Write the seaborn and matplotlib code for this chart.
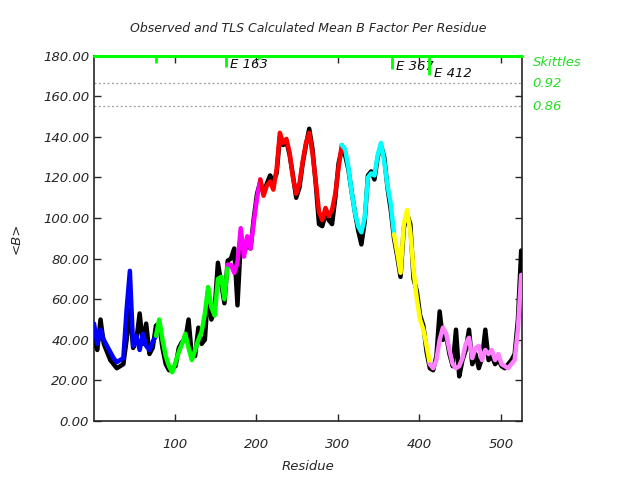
import numpy as np
import pandas as pd
import matplotlib
matplotlib.use('Agg')
import matplotlib.pyplot as plt
import seaborn as sns

# residue grid (every 4 residues)
residue = list(range(1, 526, 4))

# TLS calculated mean B, one value per residue above
calc_b = [48, 38, 45, 40, 37, 34, 31, 29, 30, 31, 55, 74, 37, 42, 35, 43, 37, 35, 39, 42,
          50, 40, 32, 27, 24, 29, 34, 38, 43, 36, 30, 35, 40, 44, 53, 66, 56, 52, 70, 71, 60,
          77, 77, 73, 78, 95, 81, 91, 85, 98, 110,
          119, 111, 116, 118, 114, 124, 142, 137, 139, 132, 120, 112, 117, 128, 137, 142, 132,
          118, 103, 99, 105, 101, 104, 112, 125,
          136, 134, 125, 113, 103, 96, 93, 100, 120, 122, 121, 131, 137, 128, 116, 107,
          92, 83, 73, 97, 104, 93, 74, 60, 50, 45, 37,
          28, 26, 30, 40, 46, 43, 35, 28, 26, 27, 31, 38, 41, 31, 36, 37, 30, 35, 33, 35,
          30, 33, 28, 27, 26, 28, 30, 45, 72]

# observed mean B
obs_b = [40, 35, 50, 38, 34, 30, 28, 26, 27, 28, 40, 55, 36, 40, 53, 38, 48, 33, 36, 47,
         48, 36, 28, 25, 26, 27, 36, 39, 40, 50, 32, 32, 46, 38, 40, 64, 50, 55, 78, 68, 58,
         79, 80, 85, 57, 88, 83, 87, 85, 100, 112,
         118, 112, 117, 121, 118, 122, 140, 136, 138, 131, 121, 110, 115, 127, 136, 144, 134,
         117, 97, 96, 102, 99, 97, 110, 127,
         134, 131, 124, 113, 103, 94, 87, 98, 121, 123, 119, 130, 136, 130, 115, 104,
         90, 81, 71, 95, 102, 97, 70, 64, 52, 47, 34,
         26, 25, 32, 54, 40, 42, 33, 27, 45, 22, 30, 35, 45, 28, 33, 26, 31, 45, 30, 32,
         28, 30, 27, 26, 28, 30, 33, 50, 84]

# TLS groups (first/last residue on the grid) and colours
seg_bounds = [1, 77, 165, 205, 305, 369, 413, 525]
seg_colors = ['#0000ff', '#00ff00', '#ff00ff', '#ff0000', '#00ffff', '#ffff00', '#ff80ff']

# skittles: residue, lower end, label
skit_res = [77, 163, 203, 303, 367, 412]
skit_low = [176.5, 174.5, 178.5, 179.5, 173.5, 170.5]
skit_labels = {163: 'E 163', 367: 'E 367', 412: 'E 412'}
skit_label_pos = {163: (168, 175.9), 367: (372, 174.5), 412: (418, 171.3)}
lev_vals = [166.5, 155.0]
lev_labels = ['0.92', '0.86']

df = pd.DataFrame({'Residue': residue, 'Calc': calc_b, 'Obs': obs_b})

sns.set_style('ticks')
plt.rcParams['font.family'] = ['DejaVu Sans']
plt.rcParams['font.style'] = 'italic'
plt.rcParams['font.size'] = 9

fig = plt.figure(figsize=(6.4, 4.8), dpi=100)
ax = fig.add_axes([94/640, 59/480, 428/640, 365.3/480])

lime = '#00ff00'
for v in lev_vals:
    ax.axhline(v, color='#999999', ls=(0, (1.5, 2)), lw=0.9, zorder=1)
ax.axhline(180, color=lime, lw=2.2, zorder=6, clip_on=False)

sns.lineplot(data=df, x='Residue', y='Obs', color='black', lw=3.2, ax=ax, zorder=3)
for i, col in enumerate(seg_colors):
    lo, hi = seg_bounds[i], seg_bounds[i + 1]
    part = df[(df['Residue'] >= lo) & (df['Residue'] <= hi)]
    sns.lineplot(data=part, x='Residue', y='Calc', color=col, lw=3.2, ax=ax, zorder=4)

for r, lowv in zip(skit_res, skit_low):
    ax.plot([r, r], [180, lowv], color=lime, lw=2, zorder=6, solid_capstyle='butt')
    if r in skit_labels:
        px, py = skit_label_pos[r]
        ax.text(px, py, skit_labels[r], ha='left', va='center', fontsize=9.5, color='#111111')

ax.set_xlim(1, 526)
ax.set_ylim(0, 180)
ax.set_xticks([100, 200, 300, 400, 500])
ax.set_yticks(np.arange(0, 181, 20))
ax.set_yticklabels([f'{v:.2f}' for v in np.arange(0, 181, 20)])
ax.tick_params(direction='in', top=True, right=True, length=5, width=1, labelsize=9.5)
ax.tick_params(axis='x', pad=12)
for s in ax.spines.values():
    s.set_linewidth(1.2)
ax.set_xlabel('Residue', fontsize=9.5, labelpad=7)
ax.set_ylabel('<B>', fontsize=9.5, labelpad=15)

tr = ax.get_yaxis_transform()
ax.text(1.025, 176.5, 'Skittles', transform=tr, color='#22dd22', ha='left', va='center', fontsize=9.5)
for v, lab in zip(lev_vals, lev_labels):
    ax.text(1.025, v, lab, transform=tr, color='#22dd22', ha='left', va='center', fontsize=9.5)

fig.text(308/640, 1 - 28/480, 'Observed and TLS Calculated Mean B Factor Per Residue',
         ha='center', va='center', fontsize=9)

fig.savefig('out.png', dpi=100)
